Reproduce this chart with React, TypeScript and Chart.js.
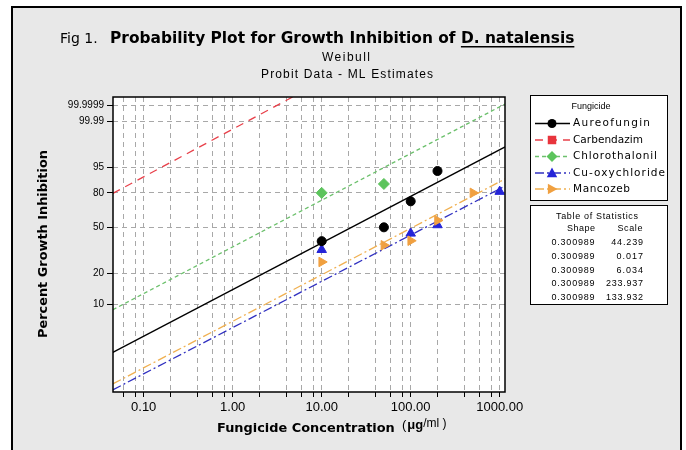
import React, { useEffect, useRef } from "react";
import { Chart, registerables } from "chart.js";

Chart.register(...registerables);

const W = 686;
const H = 450;

// ---------------- data ----------------
const seriesNames = ["Aureofungin", "Carbendazim", "Chlorothalonil", "Cu-oxychloride", "Mancozeb"];

// observed points: concentration (µg/ml) and % growth inhibition
const aureofunginConc = [10, 50, 100, 200];
const aureofunginPct = [39, 50, 73, 93.6];
const carbendazimConc: number[] = [];
const carbendazimPct: number[] = [];
const chlorothalonilConc = [10, 50];
const chlorothalonilPct = [80, 86.5];
const cuOxychlorideConc = [10, 100, 200, 1000];
const cuOxychloridePct = [33, 45, 52, 81];
const mancozebConc = [10, 50, 100, 200, 500];
const mancozebPct = [25.7, 36, 39.3, 56, 80];

// fitted Weibull lines (end points)
const fitLineConc = [0.045, 1150];
const aureofunginFitPct = [3.2, 99.3];
const carbendazimFitConc = [0.045, 5];
const carbendazimFitPct = [79.6, 99.999997];
const chlorothalonilFitPct = [8.8, 99.99993];
const cuOxychlorideFitPct = [1.29, 85.1];
const mancozebFitPct = [1.49, 89.6];

// table of statistics
const shapeValues = ["0.300989", "0.300989", "0.300989", "0.300989", "0.300989"];
const scaleValues = ["44.239", "0.017", "6.034", "233.937", "133.932"];

// axes
const yTickPct = [10, 20, 50, 80, 95, 99.99, 99.9999];
const yTickLabels = ["10", "20", "50", "80", "95", "99.99", "99.9999"];
const xTickValues = [0.1, 1, 10, 100, 1000];
const xTickLabels = ["0.10", "1.00", "10.00", "100.00", "1000.00"];
const xMinorValues = [0.06, 0.08, 0.2, 0.4, 0.6, 0.8, 2, 4, 6, 8, 20, 40, 60, 80, 200, 400, 600, 800];
const xRange = [0.0452, 1147];
const yRangePct = [1.225, 99.999995];

// ---------------- helpers ----------------
const weib = (p: number) => Math.log(-Math.log(1 - p / 100));
const toPts = (c: number[], p: number[]) => c.map((x, i) => ({ x, y: weib(p[i]) }));

const styles = [
  { color: "#000000", lineColor: "#000000", dash: [] as number[], pointStyle: "circle", radius: 4.5, rotation: 0 },
  { color: "#e8343c", lineColor: "#e8404a", dash: [8, 6], pointStyle: "rect", radius: 5, rotation: 0 },
  { color: "#5cc45c", lineColor: "#6cc06c", dash: [4, 3], pointStyle: "rectRot", radius: 5.5, rotation: 0 },
  { color: "#2424d8", lineColor: "#3030c0", dash: [9, 3, 2, 3], pointStyle: "triangle", radius: 5.5, rotation: 0 },
  { color: "#f0a040", lineColor: "#f0b050", dash: [9, 3, 2, 3], pointStyle: "triangle", radius: 5.5, rotation: 90 },
];
const legendTextWidths = [77, 70, 84, 92, 57];

const pointSets = [
  toPts(aureofunginConc, aureofunginPct),
  toPts(carbendazimConc, carbendazimPct),
  toPts(chlorothalonilConc, chlorothalonilPct),
  toPts(cuOxychlorideConc, cuOxychloridePct),
  toPts(mancozebConc, mancozebPct),
];
const lineSets = [
  toPts(fitLineConc, aureofunginFitPct),
  toPts(carbendazimFitConc, carbendazimFitPct),
  toPts(fitLineConc, chlorothalonilFitPct),
  toPts(fitLineConc, cuOxychlorideFitPct),
  toPts(fitLineConc, mancozebFitPct),
];

function drawMarker(ctx: CanvasRenderingContext2D, s: any, x: number, y: number) {
  ctx.save();
  ctx.fillStyle = s.color;
  ctx.strokeStyle = s.color;
  ctx.setLineDash([]);
  const r = s.radius;
  ctx.translate(x, y);
  ctx.rotate((s.rotation * Math.PI) / 180);
  ctx.beginPath();
  if (s.pointStyle === "circle") {
    ctx.arc(0, 0, r, 0, Math.PI * 2);
  } else if (s.pointStyle === "rect") {
    const h = r * 0.85;
    ctx.rect(-h, -h, 2 * h, 2 * h);
  } else if (s.pointStyle === "rectRot") {
    ctx.moveTo(0, -r);
    ctx.lineTo(r, 0);
    ctx.lineTo(0, r);
    ctx.lineTo(-r, 0);
    ctx.closePath();
  } else {
    ctx.moveTo(0, -r);
    ctx.lineTo(r * 0.95, r * 0.75);
    ctx.lineTo(-r * 0.95, r * 0.75);
    ctx.closePath();
  }
  ctx.fill();
  ctx.restore();
}

function fitSize(ctx: CanvasRenderingContext2D, text: string, weight: string, family: string, target: number) {
  ctx.font = `${weight} 20px ${family}`;
  const w = ctx.measureText(text).width;
  return (20 * target) / w;
}

// draw text with letter spacing so that it spans the target width
function spacedText(ctx: CanvasRenderingContext2D, text: string, x: number, y: number, target: number, align: string) {
  const anyCtx = ctx as any;
  anyCtx.letterSpacing = "0px";
  const w = ctx.measureText(text).width;
  const extra = Math.max(0, (target - w) / Math.max(1, text.length - 1));
  anyCtx.letterSpacing = `${extra}px`;
  const total = w + extra * (text.length - 1);
  const prev = ctx.textAlign;
  ctx.textAlign = "left";
  let sx = x;
  if (align === "center") sx = x - total / 2;
  else if (align === "right") sx = x - total;
  ctx.fillText(text, sx, y);
  anyCtx.letterSpacing = "0px";
  ctx.textAlign = prev;
}

const SANS = '"Liberation Sans", Arial, sans-serif';
const DEJA = '"DejaVu Sans", sans-serif';

const decor = {
  id: "decor",
  beforeDraw(chart: any) {
    const { ctx, chartArea: a } = chart;
    ctx.save();
    ctx.fillStyle = "#ffffff";
    ctx.fillRect(0, 0, W, H);
    ctx.fillStyle = "#e8e8e8";
    ctx.fillRect(12, 7, 669, H);
    ctx.strokeStyle = "#000";
    ctx.lineWidth = 2;
    ctx.strokeRect(12, 7, 669, H + 20);
    ctx.fillStyle = "#ffffff";
    ctx.fillRect(a.left, a.top, a.right - a.left, a.bottom - a.top);
    ctx.restore();
  },
  afterDraw(chart: any) {
    const { ctx, chartArea: a } = chart;
    ctx.save();
    ctx.setLineDash([]);
    ctx.strokeStyle = "#000";
    ctx.lineWidth = 1.5;
    ctx.strokeRect(a.left, a.top, a.right - a.left, a.bottom - a.top);

    // ---- title ----
    ctx.fillStyle = "#000";
    ctx.textBaseline = "alphabetic";
    ctx.textAlign = "left";
    ctx.font = `14px ${DEJA}`;
    ctx.fillText("Fig 1.", 60, 43);
    const boldA = "Probability Plot for Growth Inhibition of ";
    const boldB = "D. natalensis";
    const bsz = fitSize(ctx, boldA + boldB, "bold", DEJA, 465);
    ctx.font = `bold ${bsz}px ${DEJA}`;
    ctx.fillText(boldA, 110, 43);
    const wa = ctx.measureText(boldA).width;
    ctx.fillText(boldB, 110 + wa, 43);
    const wb = ctx.measureText(boldB).width;
    ctx.fillRect(110 + wa, 46, wb, 1.5);

    ctx.font = `12px ${SANS}`;
    spacedText(ctx, "Weibull", 346, 61, 48, "center");
    spacedText(ctx, "Probit Data - ML Estimates", 347, 78, 172, "center");

    // ---- axis titles ----
    const xt = "Fungicide Concentration";
    ctx.font = `bold ${fitSize(ctx, xt, "bold", DEJA, 178)}px ${DEJA}`;
    ctx.textAlign = "left";
    ctx.fillText(xt, 217, 432);
    ctx.font = `13px ${SANS}`;
    ctx.fillText("(", 402, 429);
    const w1 = ctx.measureText("(").width;
    ctx.font = `bold 13px ${SANS}`;
    ctx.fillText("\u03bcg", 402 + w1 + 1, 429);
    const w2 = ctx.measureText("\u03bcg").width;
    ctx.font = `12px ${SANS}`;
    ctx.fillText("/ml )", 402 + w1 + 1 + w2, 427);

    const yt = "Percent Growth Inhibition";
    ctx.save();
    ctx.translate(47, 244);
    ctx.rotate(-Math.PI / 2);
    ctx.textAlign = "center";
    ctx.font = `bold ${fitSize(ctx, yt, "bold", DEJA, 188)}px ${DEJA}`;
    ctx.fillText(yt, 0, 0);
    ctx.restore();

    // ---- legend ----
    ctx.lineWidth = 1;
    ctx.fillStyle = "#fff";
    ctx.fillRect(530.5, 95.5, 137, 105);
    ctx.strokeStyle = "#000";
    ctx.strokeRect(530.5, 95.5, 137, 105);
    ctx.fillStyle = "#000";
    ctx.textBaseline = "middle";
    ctx.font = `9px ${SANS}`;
    spacedText(ctx, "Fungicide", 591, 107, 36, "center");
    const ly = [123.5, 140, 156.5, 173, 189];
    ctx.textAlign = "left";
    seriesNames.forEach((name, i) => {
      const s = styles[i];
      ctx.save();
      ctx.strokeStyle = s.lineColor;
      ctx.lineWidth = 1.5;
      ctx.setLineDash(s.dash);
      ctx.beginPath();
      ctx.moveTo(535, ly[i]);
      ctx.lineTo(570, ly[i]);
      ctx.stroke();
      ctx.restore();
      drawMarker(ctx, s, 552, ly[i]);
      ctx.fillStyle = "#000";
      ctx.font = `10.5px ${DEJA}`;
      spacedText(ctx, name, 573, ly[i], legendTextWidths[i], "left");
    });

    // ---- table of statistics ----
    ctx.fillStyle = "#fff";
    ctx.fillRect(530.5, 205.5, 137, 99);
    ctx.strokeStyle = "#000";
    ctx.strokeRect(530.5, 205.5, 137, 99);
    ctx.fillStyle = "#000";
    ctx.font = `9px ${SANS}`;
    spacedText(ctx, "Table of Statistics", 597, 217, 82, "center");
    spacedText(ctx, "Shape", 581, 229, 28, "center");
    spacedText(ctx, "Scale", 630, 229, 25, "center");
    const ry = [243, 257, 270.5, 284, 297.5];
    shapeValues.forEach((v, i) => {
      spacedText(ctx, v, 573, ry[i], 43, "center");
      spacedText(ctx, scaleValues[i], 643, ry[i], scaleValues[i].length * 5.3, "right");
    });
    ctx.restore();
  },
};

export default function App() {
  const ref = useRef<HTMLCanvasElement>(null);
  useEffect(() => {
    const canvas = ref.current!;
    const datasets: any[] = [];
    seriesNames.forEach((name, i) => {
      const s = styles[i];
      datasets.push({
        label: name + " fit",
        data: lineSets[i],
        showLine: true,
        borderColor: s.lineColor,
        borderWidth: 1.3,
        borderDash: s.dash,
        pointRadius: 0,
        order: 3,
      });
    });
    seriesNames.forEach((name, i) => {
      const s = styles[i];
      datasets.push({
        label: name,
        data: pointSets[i],
        showLine: false,
        backgroundColor: s.color,
        borderColor: s.color,
        borderWidth: 1,
        pointStyle: s.pointStyle,
        pointRadius: s.radius,
        pointRotation: s.rotation,
        order: i === 4 ? 0 : 1,
      });
    });

    const chart = new Chart(canvas, {
      type: "scatter",
      data: { datasets },
      options: {
        animation: false,
        responsive: false,
        devicePixelRatio: 1,
        layout: { padding: { left: 0, right: 181, top: 97, bottom: 0 } },
        plugins: { legend: { display: false }, tooltip: { enabled: false }, title: { display: false } },
        scales: {
          x: {
            type: "logarithmic",
            min: xRange[0],
            max: xRange[1],
            afterBuildTicks: (s: any) => {
              s.ticks = [...xTickValues, ...xMinorValues].sort((p, q) => p - q).map((v) => ({ value: v }));
            },
            afterFit: (s: any) => {
              s.height = 58;
            },
            ticks: {
              autoSkip: false,
              maxRotation: 0,
              minRotation: 0,
              padding: 3,
              color: "#000",
              font: { family: SANS, size: 13 },
              callback: (v: any) => {
                const idx = xTickValues.findIndex((t) => Math.abs(t - Number(v)) < 1e-9);
                return idx >= 0 ? xTickLabels[idx] : "";
              },
            },
            grid: { color: "#a8a8a8", lineWidth: 1, tickLength: 5, tickColor: "#000", tickWidth: 1 },
            border: { display: false, dash: [5, 4] },
          },
          y: {
            type: "linear",
            min: weib(yRangePct[0]),
            max: weib(yRangePct[1]),
            afterBuildTicks: (s: any) => {
              s.ticks = yTickPct.map((p) => ({ value: weib(p) }));
            },
            afterFit: (s: any) => {
              s.width = 113;
            },
            ticks: {
              autoSkip: false,
              padding: 3,
              color: "#000",
              font: { family: SANS, size: 10 },
              callback: (v: any) => {
                const idx = yTickPct.findIndex((p) => Math.abs(weib(p) - Number(v)) < 1e-9);
                return idx >= 0 ? yTickLabels[idx] : "";
              },
            },
            grid: { color: "#a8a8a8", lineWidth: 1, tickLength: 6, tickColor: "#000", tickWidth: 1 },
            border: { display: false, dash: [5, 4] },
          },
        },
      },
      plugins: [decor],
    } as any);
    return () => chart.destroy();
  }, []);
  return (
    <div style={{ position: "absolute", left: 0, top: 0, width: W, height: H }}>
      <canvas ref={ref} width={W} height={H} style={{ width: W, height: H, display: "block" }} />
    </div>
  );
}
